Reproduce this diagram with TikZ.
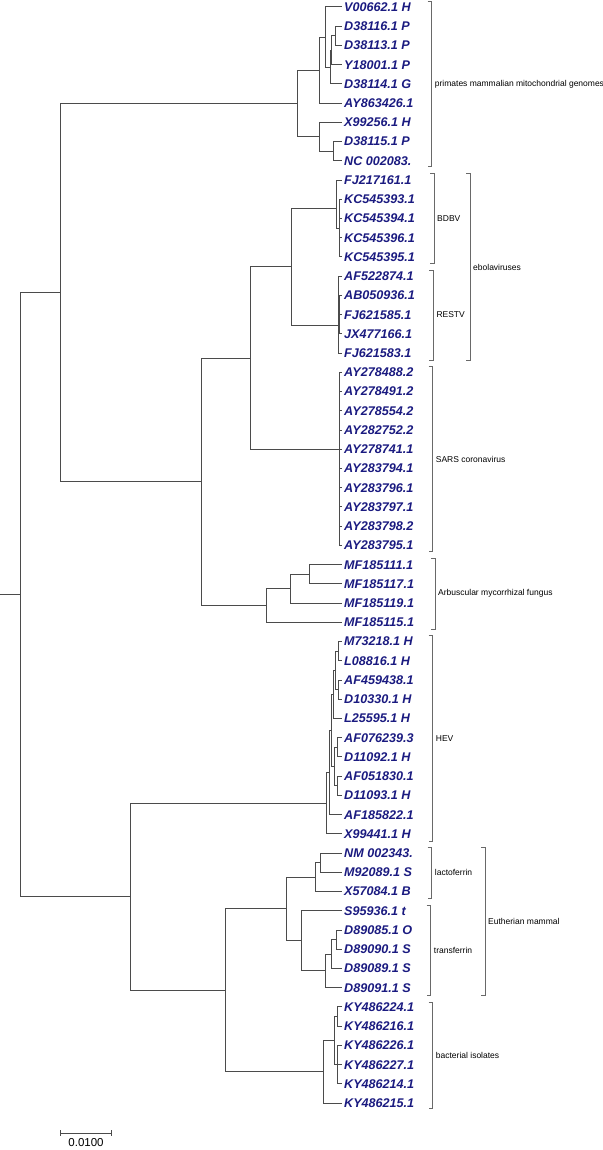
\documentclass[tikz,border=0pt]{standalone}
\usepackage{fontspec}
\setmainfont{Liberation Sans}
\definecolor{leafblue}{RGB}{26,26,128}
\definecolor{branchcol}{RGB}{75,75,75}
\definecolor{brkcol}{RGB}{105,105,105}
\tikzset{
  br/.style={draw=branchcol, line width=1pt},
  leaf/.style={anchor=west, inner sep=0pt, text=leafblue, font=\fontsize{12.6}{14}\selectfont\bfseries\itshape},
  brk/.style={draw=brkcol, line width=1pt},
  clab/.style={anchor=west, inner sep=0pt, font=\fontsize{8.5}{10}\selectfont},
}
\newcommand{\leafnode}[3]{%
  \coordinate (#1) at (341.7,#2);
  \node[leaf] (#1t) at (344,#2) {#3};}
\newcommand{\cladebrk}[5]{%
  \draw[brk] (#1-4,#2) -- (#1,#2) -- (#1,#3) -- (#1-4,#3);
  \node[clab] (#5) at (#1+3,{(#2+#3)/2}) {#4};}
\begin{document}
\begin{tikzpicture}[x=1pt,y=-1pt]
\useasboundingbox (0,0) rectangle (602,1150);
% leaves
\leafnode{l0}{7.0}{V00662.1 H}
\leafnode{l1}{26.23}{D38116.1 P}
\leafnode{l2}{45.46}{D38113.1 P}
\leafnode{l3}{64.69}{Y18001.1 P}
\leafnode{l4}{83.92}{D38114.1 G}
\leafnode{l5}{103.15}{AY863426.1}
\leafnode{l6}{122.38}{X99256.1 H}
\leafnode{l7}{141.61}{D38115.1 P}
\leafnode{l8}{160.84}{NC 002083.}
\leafnode{l9}{180.07}{FJ217161.1}
\leafnode{l10}{199.3}{KC545393.1}
\leafnode{l11}{218.53}{KC545394.1}
\leafnode{l12}{237.76}{KC545396.1}
\leafnode{l13}{256.99}{KC545395.1}
\leafnode{l14}{276.22}{AF522874.1}
\leafnode{l15}{295.45}{AB050936.1}
\leafnode{l16}{314.68}{FJ621585.1}
\leafnode{l17}{333.91}{JX477166.1}
\leafnode{l18}{353.14}{FJ621583.1}
\leafnode{l19}{372.37}{AY278488.2}
\leafnode{l20}{391.6}{AY278491.2}
\leafnode{l21}{410.83}{AY278554.2}
\leafnode{l22}{430.06}{AY282752.2}
\leafnode{l23}{449.29}{AY278741.1}
\leafnode{l24}{468.52}{AY283794.1}
\leafnode{l25}{487.75}{AY283796.1}
\leafnode{l26}{506.98}{AY283797.1}
\leafnode{l27}{526.21}{AY283798.2}
\leafnode{l28}{545.44}{AY283795.1}
\leafnode{l29}{564.67}{MF185111.1}
\leafnode{l30}{583.9}{MF185117.1}
\leafnode{l31}{603.13}{MF185119.1}
\leafnode{l32}{622.36}{MF185115.1}
\leafnode{l33}{641.59}{M73218.1 H}
\leafnode{l34}{660.82}{L08816.1 H}
\leafnode{l35}{680.05}{AF459438.1}
\leafnode{l36}{699.28}{D10330.1 H}
\leafnode{l37}{718.51}{L25595.1 H}
\leafnode{l38}{737.74}{AF076239.3}
\leafnode{l39}{756.97}{D11092.1 H}
\leafnode{l40}{776.2}{AF051830.1}
\leafnode{l41}{795.43}{D11093.1 H}
\leafnode{l42}{814.66}{AF185822.1}
\leafnode{l43}{833.89}{X99441.1 H}
\leafnode{l44}{853.12}{NM 002343.}
\leafnode{l45}{872.35}{M92089.1 S}
\leafnode{l46}{891.58}{X57084.1 B}
\leafnode{l47}{910.81}{S95936.1 t}
\leafnode{l48}{930.04}{D89085.1 O}
\leafnode{l49}{949.27}{D89090.1 S}
\leafnode{l50}{968.5}{D89089.1 S}
\leafnode{l51}{987.73}{D89091.1 S}
\leafnode{l52}{1006.96}{KY486224.1}
\leafnode{l53}{1026.19}{KY486216.1}
\leafnode{l54}{1045.42}{KY486226.1}
\leafnode{l55}{1064.65}{KY486227.1}
\leafnode{l56}{1083.88}{KY486214.1}
\leafnode{l57}{1103.11}{KY486215.1}
% internal nodes
\coordinate (pE) at (335,35.85);
\coordinate (pD) at (331.7,50.27);
\coordinate (pC) at (330,67.1);
\coordinate (pB) at (325.7,37.05);
\coordinate (pA) at (319.3,70.1);
\coordinate (pG) at (333.3,151.2);
\coordinate (pF) at (319.3,136.8);
\coordinate (prim) at (297,103.45);
\coordinate (bd2) at (339.5,228.1);
\coordinate (bd1) at (336,208.3);
\coordinate (rs2) at (339.8,314.7);
\coordinate (rs1) at (338.3,325);
\coordinate (eb) at (291.7,266.7);
\coordinate (sa) at (339.3,449.5);
\coordinate (es) at (250,358.1);
\coordinate (m3) at (309.3,574.3);
\coordinate (m2) at (290.7,588.7);
\coordinate (m1) at (266.7,605.5);
\coordinate (n2) at (201.7,481.8);
\coordinate (n1) at (60.7,292.6);
\coordinate (h7) at (338.3,651.2);
\coordinate (h8) at (338.3,689.67);
\coordinate (h6) at (335,670.4);
\coordinate (h5) at (333.3,694.46);
\coordinate (h10) at (337.3,747.36);
\coordinate (h11) at (337.3,785.8);
\coordinate (h9) at (334,766.6);
\coordinate (h4) at (331.7,730.5);
\coordinate (h3) at (329.3,772.6);
\coordinate (h1) at (326,803.25);
\coordinate (la2) at (320.7,862.7);
\coordinate (la1) at (315,877.1);
\coordinate (tf4) at (336.7,939.66);
\coordinate (tf3) at (331.7,954.08);
\coordinate (tf2) at (325,970.9);
\coordinate (tf1) at (301,940.86);
\coordinate (eu) at (286.7,908.98);
\coordinate (k2) at (337.3,1016.6);
\coordinate (k3) at (337.3,1064.65);
\coordinate (k1) at (334,1040.6);
\coordinate (k0) at (323.3,1071.86);
\coordinate (n4) at (225.7,990.4);
\coordinate (n3) at (130,896.8);
\coordinate (root) at (20.7,594.7);
\coordinate (rootin) at (0,594.7);
% branches
\draw[br] (rootin) -- (root);
\foreach \p/\c in {root/n1,root/n3,
  n1/prim,n1/n2,
  prim/pA,prim/pF,pA/pB,pA/l5,pB/l0,pB/pC,pC/pD,pC/l4,pD/pE,pD/l3,pE/l1,pE/l2,
  pF/l6,pF/pG,pG/l7,pG/l8,
  n2/es,n2/m1,es/eb,es/sa,eb/bd1,eb/rs1,bd1/l9,bd1/bd2,bd2/l10,bd2/l11,bd2/l12,bd2/l13,
  rs1/l14,rs1/rs2,rs1/l18,rs2/l15,rs2/l16,rs2/l17,
  sa/l19,sa/l20,sa/l21,sa/l22,sa/l23,sa/l24,sa/l25,sa/l26,sa/l27,sa/l28,
  m1/m2,m1/l32,m2/m3,m2/l31,m3/l29,m3/l30,
  n3/h1,n3/n4,h1/h3,h1/l43,h3/h4,h3/l42,h4/h5,h4/h9,h5/h6,h5/l37,h6/h7,h6/h8,
  h7/l33,h7/l34,h8/l35,h8/l36,h9/h10,h9/h11,h10/l38,h10/l39,h11/l40,h11/l41,
  n4/eu,n4/k0,eu/la1,eu/tf1,la1/la2,la1/l46,la2/l44,la2/l45,
  tf1/l47,tf1/tf2,tf2/tf3,tf2/l51,tf3/tf4,tf3/l50,tf4/l48,tf4/l49,
  k0/k1,k0/l57,k1/k2,k1/k3,k2/l52,k2/l53,k3/l54,k3/l55,k3/l56}
  {\draw[br] (\p) |- (\c);}
% clade brackets
\cladebrk{431.7}{1.7}{166.7}{primates mammalian mitochondrial genomes}{cPrim}
\cladebrk{434}{174}{263.3}{BDBV}{cBDBV}
\cladebrk{433.3}{270}{360}{RESTV}{cRESTV}
\cladebrk{470}{174}{360}{ebolaviruses}{cEbola}
\cladebrk{432.7}{366.7}{551.7}{SARS coronavirus}{cSARS}
\cladebrk{435}{558.3}{629}{Arbuscular mycorrhizal fungus}{cAMF}
\cladebrk{432.7}{635.7}{841}{HEV}{cHEV}
\cladebrk{431.7}{847.3}{898.3}{lactoferrin}{cLacto}
\cladebrk{430.7}{905.7}{995}{transferrin}{cTrans}
\cladebrk{485}{847.3}{995}{Eutherian mammal}{cEuth}
\cladebrk{432.7}{1002.3}{1108.3}{bacterial isolates}{cBact}
% scale bar
\coordinate (sbL) at (60.7,1133);
\coordinate (sbR) at (111.3,1133);
\draw[br] ([yshift=3pt]sbL) -- ([yshift=-3pt]sbL);
\draw[br] ([yshift=3pt]sbR) -- ([yshift=-3pt]sbR);
\draw[br] (sbL) -- (sbR);
\node[inner sep=0pt, font=\fontsize{11.5}{13}\selectfont] (sbtext) at (86,1143) {0.0100};
\end{tikzpicture}
\end{document}
